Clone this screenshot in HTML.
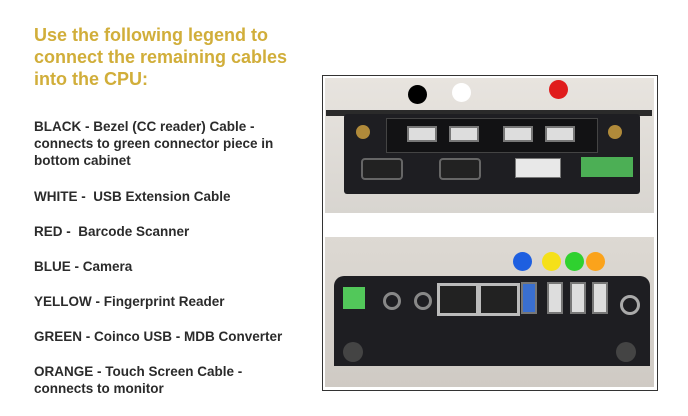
<!DOCTYPE html>
<html><head><style>
body{margin:0;width:688px;height:416px;background:#fff;position:relative;overflow:hidden;font-family:"Liberation Sans",sans-serif}
.t{position:absolute;left:34px;top:24px;color:#d1ae3a;font-weight:bold;font-size:18px;line-height:22px}
.l{position:absolute;left:34px;color:#2b2b2b;font-weight:bold;font-size:13.5px;line-height:17px}
.a{position:absolute}
.dot{position:absolute;border-radius:50%;width:19px;height:19px}
.usb{position:absolute;background:#ddd;border:2px solid #777;width:26px;height:12px}
.vu{position:absolute;background:#ddd;border:2px solid #777;width:12px;height:28px}
.db{position:absolute;background:#222;border:2px solid #666;border-radius:4px;height:18px}
</style></head><body>
<div class="t">Use the following legend to<br>connect the remaining cables<br>into the CPU:</div>
<div class="l" style="top:118px">BLACK - Bezel (CC reader) Cable -<br>connects to green connector piece in<br>bottom cabinet</div>
<div class="l" style="top:188px">WHITE -&nbsp; USB Extension Cable</div>
<div class="l" style="top:223px">RED -&nbsp; Barcode Scanner</div>
<div class="l" style="top:258px">BLUE - Camera</div>
<div class="l" style="top:293px">YELLOW - Fingerprint Reader</div>
<div class="l" style="top:328px">GREEN - Coinco USB - MDB Converter</div>
<div class="l" style="top:363px">ORANGE - Touch Screen Cable -<br>connects to monitor</div>

<div class="a" style="left:322px;top:75px;width:334px;height:314px;border:1px solid #333;background:#fff"></div>
<div class="a" style="left:325px;top:78px;width:329px;height:135px;background:linear-gradient(#e8e4df,#d8d5d0)"></div>
<div class="a" style="left:325px;top:237px;width:329px;height:150px;background:linear-gradient(#ddd9d3,#cfcac4)"></div>
<div class="a" style="left:326px;top:110px;width:326px;height:6px;background:#2a2a2a"></div>
<div class="a" style="left:344px;top:114px;width:296px;height:80px;background:#1e1e22;border-radius:3px"></div>
<div class="a" style="left:386px;top:118px;width:210px;height:33px;background:#121214;border:1px solid #444"></div>
<div class="usb" style="left:407px;top:126px"></div>
<div class="usb" style="left:449px;top:126px"></div>
<div class="usb" style="left:503px;top:126px"></div>
<div class="usb" style="left:545px;top:126px"></div>
<div class="a" style="left:356px;top:125px;width:14px;height:14px;border-radius:50%;background:#b08a3a"></div>
<div class="a" style="left:608px;top:125px;width:14px;height:14px;border-radius:50%;background:#b08a3a"></div>
<div class="db" style="left:361px;top:158px;width:38px"></div>
<div class="db" style="left:439px;top:158px;width:38px"></div>
<div class="a" style="left:515px;top:158px;width:44px;height:18px;background:#e8e8e8;border:1px solid #777"></div>
<div class="a" style="left:581px;top:157px;width:52px;height:20px;background:#4caf55"></div>
<div class="dot" style="left:408px;top:85px;background:#000"></div>
<div class="dot" style="left:452px;top:83px;background:#fff"></div>
<div class="dot" style="left:549px;top:80px;background:#e01c1c"></div>
<div class="a" style="left:334px;top:276px;width:316px;height:90px;background:#1e1e22;border-radius:10px 10px 0 0"></div>
<div class="a" style="left:343px;top:287px;width:22px;height:22px;background:#52c85a"></div>
<div class="a" style="left:383px;top:292px;width:12px;height:12px;border-radius:50%;border:3px solid #888"></div>
<div class="a" style="left:414px;top:292px;width:12px;height:12px;border-radius:50%;border:3px solid #888"></div>
<div class="a" style="left:437px;top:283px;width:36px;height:27px;background:#222;border:3px solid #bbb"></div>
<div class="a" style="left:478px;top:283px;width:36px;height:27px;background:#222;border:3px solid #bbb"></div>
<div class="vu" style="left:521px;top:282px;background:#3a6fd0"></div>
<div class="vu" style="left:547px;top:282px"></div>
<div class="vu" style="left:570px;top:282px"></div>
<div class="vu" style="left:592px;top:282px"></div>
<div class="a" style="left:620px;top:295px;width:14px;height:14px;border-radius:50%;border:3px solid #aaa"></div>
<div class="a" style="left:343px;top:342px;width:20px;height:20px;border-radius:50%;background:#444"></div>
<div class="a" style="left:616px;top:342px;width:20px;height:20px;border-radius:50%;background:#444"></div>
<div class="dot" style="left:513px;top:252px;background:#1e5fe0"></div>
<div class="dot" style="left:542px;top:252px;background:#f5e019"></div>
<div class="dot" style="left:565px;top:252px;background:#2fd12f"></div>
<div class="dot" style="left:586px;top:252px;background:#fba31b"></div>
</body></html>
